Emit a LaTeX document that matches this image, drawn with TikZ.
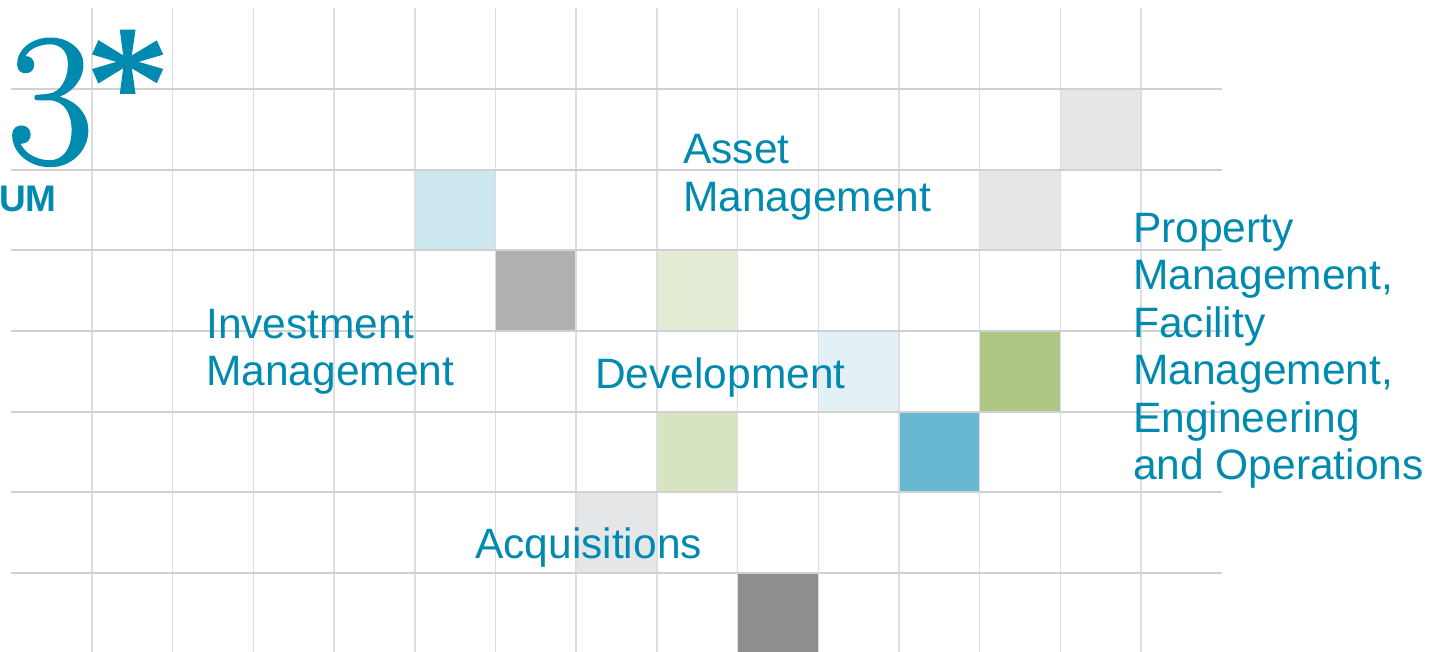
\documentclass[tikz,border=0pt]{standalone}
\usepackage{fontspec}
\newfontfamily\labelfont{Liberation Sans}
\newfontfamily\digitfont[FakeBold=1.3]{Latin Modern Roman}
\newfontfamily\starfont[FakeBold=1.5]{Liberation Serif}
\definecolor{brandteal}{RGB}{0,138,175}
\definecolor{vline}{RGB}{221,222,223}
\definecolor{hline}{RGB}{208,209,210}
\definecolor{sqpaleblue}{RGB}{204,231,238}
\definecolor{sqgrey}{RGB}{175,176,178}
\definecolor{sqpalegreen}{RGB}{228,236,214}
\definecolor{sqiceblue}{RGB}{227,241,246}
\definecolor{sqgreen}{RGB}{175,198,133}
\definecolor{sqblue}{RGB}{104,184,209}
\definecolor{sqsage}{RGB}{214,228,194}
\definecolor{sqlightgrey}{RGB}{229,230,232}
\definecolor{sqdarkgrey}{RGB}{143,142,143}
\begin{document}
\begin{tikzpicture}[x=1pt,y=-1pt,
  areatext/.style={anchor=base west, inner sep=0pt, text=brandteal, align=left,
    font=\labelfont\fontsize{42.5}{47.5}\selectfont},
  vrule/.style={draw=vline, line width=1.5pt},
  hrule/.style={draw=hline, line width=2pt}]
\useasboundingbox (0,0) rectangle (1445,652);
\def\gx{11.3}\def\gy{8.2}\def\cs{80.7}
% coloured cells: {column, row, colour}
\begin{scope}
\clip (0,0) rectangle (1445,652);
\foreach \c/\r/\col in {5/2/sqpaleblue, 6/3/sqgrey, 8/3/sqpalegreen,
    10/4/sqiceblue, 12/4/sqgreen, 11/5/sqblue, 8/5/sqsage,
    7/6/sqlightgrey, 9/7/sqdarkgrey, 12/2/sqlightgrey, 13/1/sqlightgrey}
  \fill[\col] ({\gx+\c*\cs},{\gy+\r*\cs}) rectangle ++(\cs,\cs);
% grid
\foreach \i in {1,...,14}
  \draw[vrule] ({\gx+\i*\cs},\gy) -- ({\gx+\i*\cs},652);
\foreach \j in {1,...,7}
  \draw[hrule] (\gx,{\gy+\j*\cs}) -- ({\gx+15*\cs},{\gy+\j*\cs});
\end{scope}
% headline figure and caption
\node[anchor=base west, inner sep=0pt, text=brandteal, text depth=0pt]
  (figure) at (7,163)
  {\digitfont\fontsize{188}{188}\selectfont 3\kern-8pt%
   \starfont\fontsize{168}{168}\selectfont\raisebox{22pt}{*}};
\node[anchor=base west, inner sep=0pt, text=brandteal,
  font=\labelfont\bfseries\fontsize{37}{40}\selectfont] (aum) at (-1,212) {UM};
% service areas (anchored at the baseline of their last line)
\node[areatext] (invest) at (206,385.5) {Investment\\Management};
\node[areatext] (asset) at (683,211.5) {Asset\\Management};
\node[areatext] (develop) at (595,388) {Development};
\node[areatext] (acquire) at (475,558) {Acquisitions};
\node[areatext] (property) at (1133,479.5) {Property\\Management,\\Facility\\Management,\\Engineering\\and Operations};
\end{tikzpicture}
\end{document}
